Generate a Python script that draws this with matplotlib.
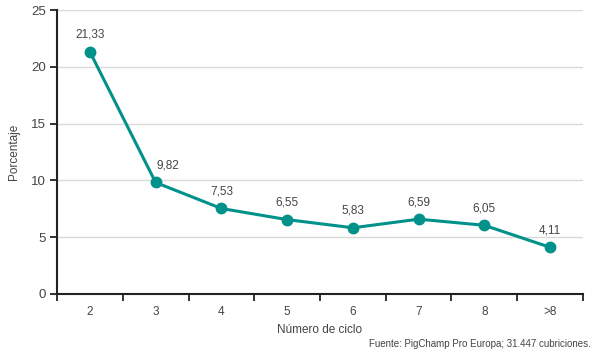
import matplotlib.pyplot as plt
import numpy as np

plt.rcParams['font.family'] = ['Liberation Sans', 'DejaVu Sans']

ciclos = ['2', '3', '4', '5', '6', '7', '8', '>8']
porcentaje = [21.33, 9.82, 7.53, 6.55, 5.83, 6.59, 6.05, 4.11]
etiquetas = ['21,33', '9,82', '7,53', '6,55', '5,83', '6,59', '6,05', '4,11']
# horizontal nudge of each label (points), the 9,82 one sits right of its point
desplaz = [0, 9, 0, 0, 0, 0, 0, 0]

teal = '#00918a'
gris = '#444444'

fig = plt.figure(figsize=(5.97, 3.54), dpi=100)
ax = fig.add_axes([0.0955, 0.1695, 0.881, 0.802])

x = np.arange(len(ciclos))
ax.plot(x, porcentaje, color=teal, lw=2.2, marker='o', ms=7.5, zorder=3, clip_on=False)
for xi, yi, t, dx in zip(x, porcentaje, etiquetas, desplaz):
    ax.annotate(t, (xi, yi), xytext=(dx, 8), textcoords='offset points',
                ha='center', va='bottom', fontsize=8.5, color=gris)

ax.set_xlim(-0.5, len(ciclos) - 0.5)
ax.set_ylim(0, 25)
ax.set_yticks([0, 5, 10, 15, 20, 25])
ax.yaxis.grid(True, color='#d9d9d9', lw=1)
ax.set_axisbelow(True)

# ticks on category boundaries, labels at centres
ax.set_xticks(x)
ax.set_xticklabels(ciclos)
ax.set_xticks(np.arange(-0.5, len(ciclos)), minor=True)
ax.tick_params(axis='x', which='major', length=0, pad=9, labelsize=8.5, labelcolor=gris)
ax.tick_params(axis='x', which='minor', length=5, width=1.3, color='#222222')
ax.tick_params(axis='y', length=5, width=1.3, color='#222222', labelsize=9.5, labelcolor=gris, pad=3)

for s in ['top', 'right']:
    ax.spines[s].set_visible(False)
for s in ['left', 'bottom']:
    ax.spines[s].set_color('#222222')
    ax.spines[s].set_linewidth(1.5)

ax.set_xlabel('Número de ciclo', fontsize=8.5, color=gris, labelpad=4)
ax.set_ylabel('Porcentaje', fontsize=8.5, color=gris, labelpad=8)
fig.text(0.99, 0.015, 'Fuente: PigChamp Pro Europa; 31.447 cubriciones.',
         ha='right', va='bottom', fontsize=7, color=gris)

fig.savefig('out.png', dpi=100)
